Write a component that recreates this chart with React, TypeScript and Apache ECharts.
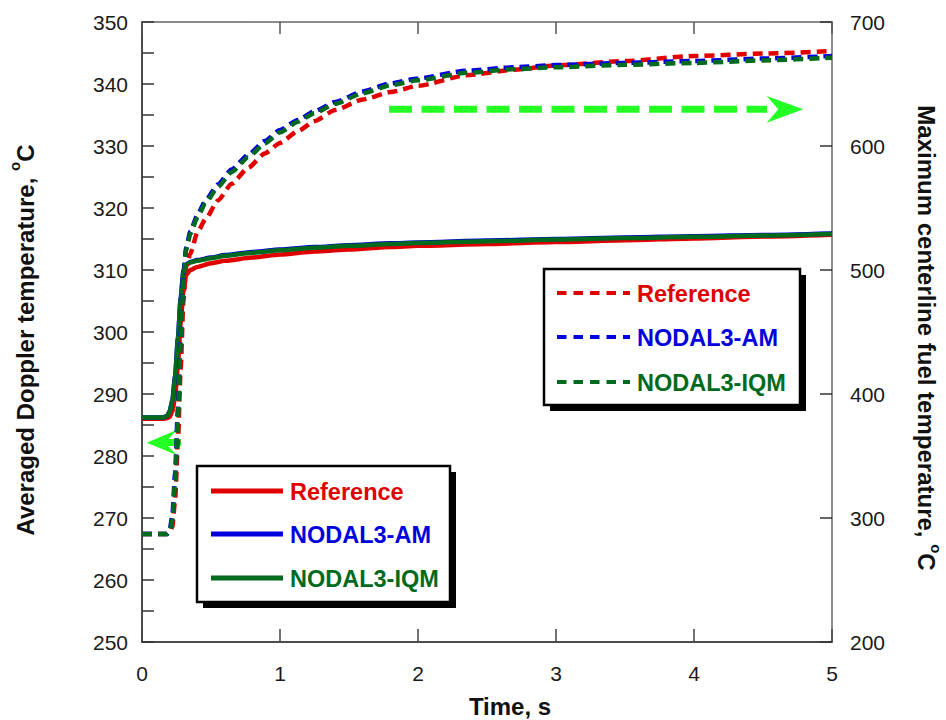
import React, { useEffect, useRef } from "react";
import * as echarts from "echarts";

// Time axis (s)
const timeSolid = [0, 0.15, 0.18, 0.2, 0.22, 0.24, 0.26, 0.28, 0.3, 0.32, 0.35, 0.4, 0.5, 0.6, 0.8, 1.0, 1.25, 1.5, 1.8, 2.0, 2.5, 3.0, 3.5, 4.0, 4.5, 5.0];
// Averaged Doppler temperature (left axis, °C)
const dopplerRef = [286, 286, 286.1, 286.3, 287.2, 289.5, 294.5, 301.5, 306.5, 309.2, 310.0, 310.5, 311.1, 311.5, 312.0, 312.5, 313.0, 313.3, 313.7, 313.9, 314.2, 314.5, 314.8, 315.1, 315.4, 315.7];
const dopplerAM = [286.2, 286.2, 286.4, 287.2, 289, 293, 299, 305.5, 309.8, 310.9, 311.3, 311.6, 312.0, 312.4, 312.9, 313.3, 313.7, 314.0, 314.3, 314.45, 314.75, 315.0, 315.25, 315.45, 315.65, 315.9];
const dopplerIQM = [286.2, 286.2, 286.4, 287.1, 288.8, 292.7, 298.7, 305.2, 309.6, 310.8, 311.2, 311.5, 311.9, 312.3, 312.8, 313.2, 313.6, 313.9, 314.2, 314.35, 314.65, 314.9, 315.15, 315.35, 315.55, 315.8];

const timeFuel = [0, 0.18, 0.2, 0.22, 0.24, 0.26, 0.28, 0.3, 0.32, 0.35, 0.4, 0.46, 0.55, 0.65, 0.77, 0.89, 1.0, 1.13, 1.25, 1.4, 1.6, 1.8, 2.0, 2.35, 2.7, 3.0, 3.5, 4.0, 4.5, 5.0];
// Maximum centerline fuel temperature (right axis, °C)
const fuelRef = [287, 287, 288, 293, 315, 360, 420, 475, 503, 513, 530, 541, 556, 569.5, 582.5, 594, 602.5, 612, 620, 629, 637.5, 643.5, 648.5, 657, 661.5, 665, 668.5, 672.6, 674.5, 676.6];
const fuelAM = [287, 287, 290, 302, 336, 388, 448, 498, 518, 531, 544, 556, 569, 581, 593, 604, 613, 621, 628, 635.5, 644, 650.5, 654.5, 660.7, 663.5, 665.3, 667, 668.5, 670.5, 672.6];
const fuelIQM = [287, 287, 289, 298, 330, 380, 440, 492, 516, 529, 542, 554, 567, 579, 591, 602, 611, 619.5, 626.5, 634, 642.5, 649, 653, 659, 662, 663.5, 665.5, 667, 669, 671.2];

const seriesNames = ["Reference", "NODAL3-AM", "NODAL3-IQM"];
const seriesColors = ["#e00000", "#0000dd", "#006a1e"];

const xTicks = { min: 0, max: 5, interval: 1 };
const leftTicks = { min: 250, max: 350, interval: 5 };
const rightTicks = { min: 200, max: 700, interval: 100 };

const zip = (t: number[], v: number[]) => t.map((x, i) => [x, v[i]]);

const FONT = '"Liberation Sans", Arial, sans-serif';

function legendBox(x: number, y: number, w: number, h: number, rows: number[], lineX0: number, lineX1: number, textX: number, dashed: boolean) {
  const els: any[] = [
    { type: "rect", z: 100, shape: { x: x + 6, y: y + 6, width: w, height: h }, style: { fill: "#000" } },
    { type: "rect", z: 101, shape: { x, y, width: w, height: h }, style: { fill: "#fff", stroke: "#000", lineWidth: 2.5 } },
  ];
  rows.forEach((ry, i) => {
    els.push({
      type: "line", z: 102,
      shape: { x1: lineX0, y1: ry, x2: lineX1, y2: ry },
      style: { stroke: seriesColors[i], lineWidth: dashed ? 4 : 5, lineDash: dashed ? [9.5, 7] : null },
    });
    els.push({
      type: "text", z: 102, x: textX, y: ry + 1,
      style: { text: seriesNames[i], fill: seriesColors[i], font: `bold 23.5px ${FONT}`, align: "left", verticalAlign: "middle" },
    });
  });
  return els;
}

function titleRich() {
  return {
    a: { fontFamily: FONT, fontWeight: "bold", fontSize: 24, fill: "#111", lineHeight: 30, verticalAlign: "bottom" },
    s: { fontFamily: FONT, fontWeight: "bold", fontSize: 15, fill: "#111", lineHeight: 30, verticalAlign: "top" },
  };
}

export default function App() {
  const ref = useRef<HTMLDivElement>(null);
  useEffect(() => {
    if (!ref.current) return;
    const chart = echarts.init(ref.current, null, { renderer: "svg" });
    const axisLabelStyle = { fontFamily: FONT, fontSize: 21, color: "#1a1a1a" };
    const solidData = [dopplerRef, dopplerAM, dopplerIQM];
    const fuelData = [fuelRef, fuelAM, fuelIQM];
    const series: any[] = [];
    solidData.forEach((d, i) => {
      series.push({
        name: seriesNames[i] + " (Doppler)", type: "line", yAxisIndex: 0, xAxisIndex: 0,
        data: zip(timeSolid, d), showSymbol: false, symbol: "none", smooth: 0.2, smoothMonotone: "x",
        lineStyle: { color: seriesColors[i], width: 4.5 }, z: 2 + i,
      });
    });
    fuelData.forEach((d, i) => {
      series.push({
        name: seriesNames[i] + " (fuel)", type: "line", yAxisIndex: 1, xAxisIndex: 0,
        data: zip(timeFuel, d), showSymbol: false, symbol: "none", smooth: 0.2, smoothMonotone: "x",
        lineStyle: { color: seriesColors[i], width: 4.5, type: [10, 6] }, z: 5 + i,
      });
    });

    const graphic: any[] = [
      // left green arrow (Doppler -> left axis)
      { type: "rect", shape: { x: 163, y: 439, width: 18, height: 7 }, style: { fill: "#24ff24" } },
      { type: "polygon", shape: { points: [[146.7, 442.7], [176.7, 430], [165, 442.7], [176.7, 455]] }, style: { fill: "#24ff24" } },
      // right green arrow (fuel -> right axis)
      { type: "line", shape: { x1: 389, y1: 109.3, x2: 767, y2: 109.3 }, style: { stroke: "#24ff24", lineWidth: 7, lineDash: [23, 9.5] } },
      { type: "polygon", shape: { points: [[766.7, 96], [803.3, 109.3], [766.7, 122.7], [778.3, 109.3]] }, style: { fill: "#24ff24" } },
      // axis titles
      {
        type: "text", x: 22, y: 340, rotation: Math.PI / 2,
        style: { text: "{a|Averaged Doppler temperature, }{s|o}{a|C}", align: "center", verticalAlign: "middle", rich: titleRich() },
      },
      {
        type: "text", x: 929, y: 338, rotation: -Math.PI / 2,
        style: { text: "{a|Maximum centerline fuel temperature, }{s|o}{a|C}", align: "center", verticalAlign: "middle", rich: titleRich() },
      },
      {
        type: "text", x: 510, y: 706,
        style: { text: "Time, s", font: `bold 24px ${FONT}`, fill: "#111", align: "center", verticalAlign: "middle" },
      },
      ...legendBox(197, 466, 253, 136, [491, 534, 578], 211, 283, 290, false),
      ...legendBox(544, 269, 256, 136, [293, 337, 382], 557, 630, 637, true),
    ];

    chart.setOption({
      animation: false,
      backgroundColor: "#fff",
      grid: { left: 142, right: 114, top: 22, bottom: 78, containLabel: false },
      xAxis: [
        {
          type: "value", position: "bottom", ...xTicks,
          axisLine: { show: true, onZero: false, lineStyle: { color: "#111", width: 1.5 } },
          axisTick: { show: true, inside: true, length: 13, lineStyle: { color: "#444", width: 1.5 } },
          axisLabel: { ...axisLabelStyle, margin: 21 },
          splitLine: { show: false },
        },
        {
          type: "value", position: "top", ...xTicks,
          axisLine: { show: true, onZero: false, lineStyle: { color: "#666", width: 1.5 } },
          axisTick: { show: true, inside: true, length: 12, lineStyle: { color: "#555", width: 1.5 } },
          axisLabel: { show: false },
          splitLine: { show: false },
        },
      ],
      yAxis: [
        {
          type: "value", position: "left", ...leftTicks,
          axisLine: { show: true, onZero: false, lineStyle: { color: "#111", width: 1.5 } },
          axisTick: { show: true, inside: true, length: 12, lineStyle: { color: "#333", width: 1.5 } },
          axisLabel: { ...axisLabelStyle, margin: 14, formatter: (v: number) => (v % 10 === 0 ? String(v) : "") },
          splitLine: { show: false },
        },
        {
          type: "value", position: "right", ...rightTicks,
          axisLine: { show: true, onZero: false, lineStyle: { color: "#666", width: 1.5 } },
          axisTick: { show: true, inside: true, length: 12, lineStyle: { color: "#333", width: 1.5 } },
          axisLabel: { ...axisLabelStyle, margin: 18 },
          splitLine: { show: false },
        },
      ],
      series,
      graphic,
    });
    return () => chart.dispose();
  }, []);
  return <div ref={ref} style={{ position: "fixed", left: 0, top: 0, width: 946, height: 720, background: "#fff" }} />;
}
